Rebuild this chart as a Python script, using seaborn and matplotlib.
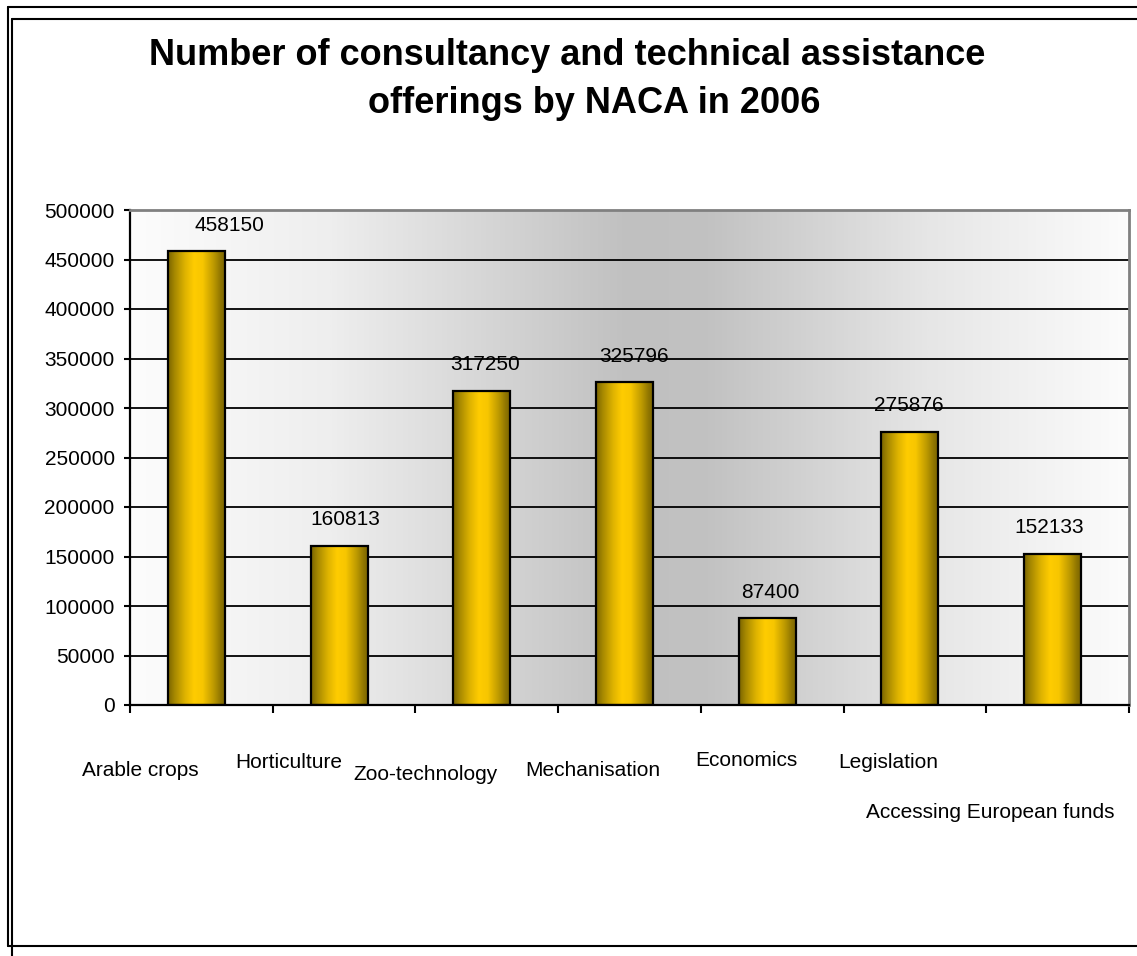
import numpy as np
import matplotlib
matplotlib.use("Agg")
import matplotlib.pyplot as plt
import matplotlib.transforms as mtransforms
from matplotlib.colors import LinearSegmentedColormap
from matplotlib.lines import Line2D
import seaborn as sns

# ---- data ----
categories = ["Arable crops", "Horticulture", "Zoo-technology", "Mechanisation",
              "Economics", "Legislation", "Accessing European funds"]
values = [458150, 160813, 317250, 325796, 87400, 275876, 152133]
yticks = [0, 50000, 100000, 150000, 200000, 250000, 300000, 350000, 400000, 450000, 500000]
title_line1 = "Number of consultancy and technical assistance"
title_line2 = "offerings by NACA in 2006"

sns.set_style("white")
plt.rcParams["font.family"] = ["Liberation Sans", "DejaVu Sans"]
plt.rcParams["text.color"] = "black"
plt.rcParams["xtick.color"] = "black"
plt.rcParams["ytick.color"] = "black"
plt.rcParams["axes.labelcolor"] = "black"

W, H = 1137, 956
fig = plt.figure(figsize=(W / 100, H / 100), dpi=100)
fig.patch.set_facecolor("white")

left_px, right_px, top_px, bot_px = 130, 1129, 210, 705
ax = fig.add_axes([left_px / W, 1 - bot_px / H, (right_px - left_px) / W, (bot_px - top_px) / H])

# background horizontal gradient (white -> grey -> white)
bg_cmap = LinearSegmentedColormap.from_list(
    "bg", [(0.0, "#fcfcfc"), (0.2, "#eeeeee"), (0.5, "#c0c0c0"), (0.58, "#c2c2c2"),
           (0.8, "#e6e6e6"), (1.0, "#fcfcfc")])
grad = np.linspace(0, 1, 512).reshape(1, -1)
ax.imshow(grad, cmap=bg_cmap, extent=[-0.5, 6.5, 0, 500000], aspect="auto", zorder=0.1)

sns.barplot(x=categories, y=values, ax=ax, width=0.4, color="#ffcc00", saturation=1)

bar_cmap = LinearSegmentedColormap.from_list(
    "gold", [(0.0, "#7a6400"), (0.12, "#a88a00"), (0.3, "#e0b400"), (0.45, "#ffcc00"),
             (0.6, "#f7c600"), (0.78, "#c09c00"), (0.92, "#8c7300"), (1.0, "#7a6400")])
bgrad = np.linspace(0, 1, 256).reshape(1, -1)
shift = -0.035
for p in ax.patches:
    p.set_x(p.get_x() + shift)
    x0, w, h = p.get_x(), p.get_width(), p.get_height()
    ax.imshow(bgrad, cmap=bar_cmap, extent=[x0, x0 + w, 0, h], aspect="auto", zorder=2)
    p.set_facecolor("none")
    p.set_edgecolor("black")
    p.set_linewidth(1.6)
    p.set_zorder(3)

# value labels
val_dx = [0.20, 0.01, -0.015, 0.035, -0.01, -0.04, -0.06]
for i, v in enumerate(values):
    ax.annotate(f"{v}", xy=(i + val_dx[i], v), xytext=(0, 19), textcoords="offset points",
                ha="center", va="center", fontsize=15, color="black", zorder=5)

# category labels, staggered as in the original
lab_dx = [-0.43, -0.385, -0.43, -0.26, -0.18, -0.19, -0.47]
lab_y = [770, 762, 775, 770, 760, 762, 812]
trans = mtransforms.blended_transform_factory(ax.transData, ax.transAxes)
for i, lab in enumerate(categories):
    ya = (bot_px - lab_y[i]) / (bot_px - top_px)
    ax.text(i + lab_dx[i], ya, lab, transform=trans, ha="center", va="center",
            fontsize=15, color="black", clip_on=False)

ax.set_xlim(-0.5, 6.5)
ax.set_ylim(0, 500000)
ax.set_xticks(np.arange(-0.5, 7.0, 1.0))
ax.set_xticklabels([])
ax.set_yticks(yticks)
ax.set_yticklabels([str(t) for t in yticks], fontsize=15, color="black")
ax.set_xlabel("")
ax.set_ylabel("")
ax.tick_params(axis="x", direction="out", length=6, width=1.5, color="black", bottom=True)
ax.tick_params(axis="y", direction="out", length=4, width=1.5, color="black", pad=7, left=True)
ax.yaxis.grid(True, color="black", linewidth=1.3)
ax.xaxis.grid(False)
ax.set_axisbelow("line")
for s in ["left", "bottom"]:
    ax.spines[s].set_color("black")
    ax.spines[s].set_linewidth(1.6)
for s in ["top", "right"]:
    ax.spines[s].set_color("#808080")
    ax.spines[s].set_linewidth(2)
    ax.spines[s].set_visible(True)

# title
fig.text(567 / W, 1 - 65 / H, title_line1, ha="center", va="baseline",
         fontsize=26, fontweight="bold", color="black")
fig.text(594 / W, 1 - 113 / H, title_line2, ha="center", va="baseline",
         fontsize=26, fontweight="bold", color="black")

# chart frame (double lines)
def fline(x0, y0, x1, y1):
    fig.add_artist(Line2D([x0 / W, x1 / W], [1 - y0 / H, 1 - y1 / H],
                          transform=fig.transFigure, color="black", linewidth=1.5))

fline(8, 7, W, 7)
fline(12, 19, W, 19)
fline(8, 7, 8, 946)
fline(12, 19, 12, H)
fline(8, 946, W, 946)

fig.savefig("out.png", dpi=100)
